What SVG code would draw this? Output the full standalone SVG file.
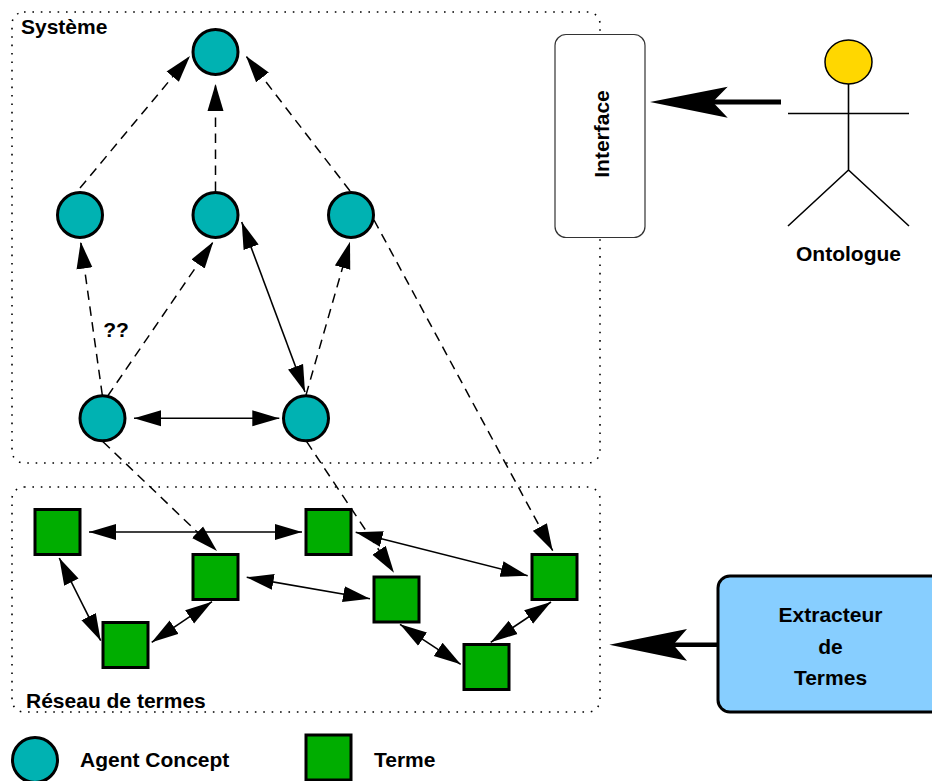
<svg xmlns="http://www.w3.org/2000/svg" width="932" height="781" viewBox="0 0 932 781">
<defs>
<marker id="ah" markerUnits="userSpaceOnUse" viewBox="0 0 27 17" refX="27" refY="8.500" markerWidth="27" markerHeight="17" orient="auto-start-reverse"><path d="M0 0.500L27 8.500L0 16.500Z" fill="#000"/></marker>
</defs>
<style>
text{font-family:"Liberation Sans",Arial,sans-serif;font-weight:700;font-size:21px;fill:#000}
.m{text-anchor:middle}
.box{fill:none;stroke:#000;stroke-width:1.6;stroke-dasharray:1.6 6.8}
.c{fill:#00b2b2;stroke:#000;stroke-width:3}
.s{fill:#00ad00;stroke:#000;stroke-width:3}
.d{fill:none;stroke:#000;stroke-width:1.5;stroke-dasharray:9.500 6.500;marker-end:url(#ah)}
.b{fill:none;stroke:#000;stroke-width:1.6;marker-start:url(#ah);marker-end:url(#ah)}
.t{fill:none;stroke:#000;stroke-width:1.6}
</style>
<rect x="12" y="12" width="588" height="451" rx="12" class="box"/>
<rect x="12" y="487" width="588" height="225" rx="12" class="box"/>
<text x="21" y="34">Système</text>
<text x="26" y="708">Réseau de termes</text>
<g id="connectors">
<path class="d" d="M80 188L190 56"/>
<path class="d" d="M215.500 191L215.500 84"/>
<path class="d" d="M350 191L246 56"/>
<path class="d" d="M102.300 395L80.700 241.700"/>
<path class="d" d="M107.700 396L213.300 241.700"/>
<path class="d" d="M306 395L350 241.700"/>
<path class="d" d="M374 220L552.700 550.700"/>
<path class="d" d="M103 441.700L217 551"/>
<path class="d" d="M306.700 441.700L394 572.700"/>
<path class="b" d="M134 418.300L279.300 418.300"/>
<path class="b" d="M241.700 222L305 392"/>
<path class="b" d="M89 532L302 532"/>
<path class="b" d="M59.300 558L100.700 640.700"/>
<path class="b" d="M212 601.700L151.700 642.300"/>
<path class="b" d="M246.700 577.300L370 598.700"/>
<path class="b" d="M355.700 532.300L527.700 575.700"/>
<path class="b" d="M400 624.300L460.700 664.300"/>
<path class="b" d="M551 602L490.700 642.300"/>
<g id="thick-arrow-ontologue"><path d="M712 102H781" stroke="#000" stroke-width="5" fill="none"/><path d="M650 102L727.700 86.700L712.700 102L727.700 117.700Z" fill="#000"/></g>
<g id="thick-arrow-extracteur"><path d="M672 644.700H717" stroke="#000" stroke-width="4.500" fill="none"/><path d="M609.300 644.700L687 629L673.300 644.700L687 660.700Z" fill="#000"/></g>
</g>
<g id="c1"><circle class="c" cx="215.500" cy="52" r="22.500"/></g>
<g id="c2"><circle class="c" cx="80" cy="215" r="22.500"/></g>
<g id="c3"><circle class="c" cx="215.500" cy="215" r="22.500"/></g>
<g id="c4"><circle class="c" cx="351" cy="215" r="22.500"/></g>
<g id="c5"><circle class="c" cx="102.500" cy="418.300" r="22.500"/></g>
<g id="c6"><circle class="c" cx="306" cy="418.300" r="22.500"/></g>
<g id="t1"><rect class="s" x="35" y="509.500" width="45" height="45"/></g>
<g id="t2"><rect class="s" x="193" y="554.500" width="45" height="45"/></g>
<g id="t3"><rect class="s" x="103" y="622.500" width="45" height="45"/></g>
<g id="t4"><rect class="s" x="306" y="509.500" width="45" height="45"/></g>
<g id="t5"><rect class="s" x="374" y="577" width="45" height="45"/></g>
<g id="t6"><rect class="s" x="532" y="554.500" width="45" height="45"/></g>
<g id="t7"><rect class="s" x="464" y="644.500" width="45" height="45"/></g>
<text class="m" x="116" y="337">??</text>
<g id="interface"><rect x="555" y="34.500" width="90" height="203" rx="11" fill="#fff" stroke="#333" stroke-width="1.2"/><text class="m" transform="translate(608.500 134) rotate(-90)">Interface</text></g>
<g id="ontologue"><ellipse cx="848.500" cy="62" rx="23.500" ry="22" fill="#ffd700" stroke="#000" stroke-width="1.5"/><path class="t" d="M848.500 84V170M788 113.500H909M788 226L848.500 170L909 226"/><text class="m" x="848.500" y="261">Ontologue</text></g>
<g id="extracteur"><rect x="718" y="576" width="230" height="136" rx="12" fill="#87ceff" stroke="#000" stroke-width="3"/><text class="m" x="830.500" y="622">Extracteur</text><text class="m" x="830.500" y="653.500">de</text><text class="m" x="830.500" y="685">Termes</text></g>
<g id="legend-agent"><circle class="c" cx="35" cy="760" r="22.500"/><text x="80" y="767">Agent Concept</text></g>
<g id="legend-terme"><rect class="s" x="306" y="735" width="45" height="45"/><text x="374" y="767">Terme</text></g>
</svg>
